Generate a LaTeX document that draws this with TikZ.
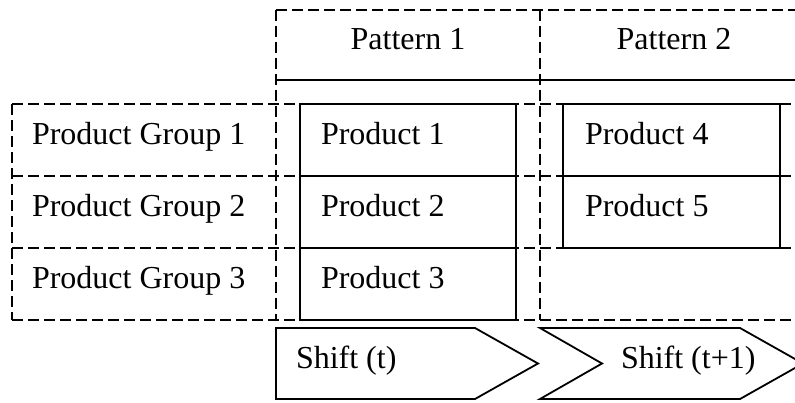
\documentclass[tikz,border=0pt]{standalone}
\usepackage{fontspec}
\setmainfont{Liberation Serif}
\begin{document}
\begin{tikzpicture}[x=1pt,y=-1pt,line width=1.8pt,
  dashline/.style={dash pattern=on 11pt off 5pt},
  cell/.style={rectangle,inner sep=0pt,outer sep=0pt,anchor=north west},
  scell/.style={cell,draw,solid},
  txt/.style={font=\fontsize{32}{38}\selectfont,text height=16pt,text depth=7pt,inner sep=0pt,outer sep=0pt},
  ltxt/.style={txt,anchor=west}]
\useasboundingbox (0,0) rectangle (795,403);
\clip (0,0) rectangle (795,403);
% grid cells (positions only)
\node[cell,minimum width=798,minimum height=72] (g1) at (12,104) {};
\node[cell,minimum width=798,minimum height=72] (g2) at (12,176) {};
\node[cell,minimum width=798,minimum height=72] (g3) at (12,248) {};
\node[cell,minimum width=264,minimum height=310] (col1) at (276,10) {};
\node[cell,minimum width=270,minimum height=310] (col2) at (540,10) {};
% dashed grid lines, each drawn once
\draw[dashline] (g1.north west) -- (g1.north east);
\draw[dashline] (g2.north west) -- (g2.north east);
\draw[dashline] (g3.north west) -- (g3.north east);
\draw[dashline] (g3.south west) -- (g3.south east);
\draw[dashline] (g1.north west) -- (g3.south west);
\draw[dashline] (col1.north west) -- (col2.north east);
\draw[dashline] (col1.north west) -- (col1.south west);
\draw[dashline] (col1.north east) -- (col1.south east);
% header separator
\coordinate (hl) at (276,80);
\coordinate (hr) at (810,80);
\draw (hl) -- (hr);
% header texts
\node[txt] (h1) at (408,45) {Pattern 1};
\node[txt] (h2) at (674,45) {Pattern 2};
% group texts
\node[ltxt] (g1t) at ([xshift=20pt]g1.west) {Product Group 1};
\node[ltxt] (g2t) at ([xshift=20pt]g2.west) {Product Group 2};
\node[ltxt] (g3t) at ([xshift=20pt]g3.west) {Product Group 3};
% product boxes
\node[scell,minimum width=216,minimum height=72] (p1) at (300,104) {};
\node[scell,minimum width=216,minimum height=72] (p2) at (300,176) {};
\node[scell,minimum width=216,minimum height=72] (p3) at (300,248) {};
\node[scell,minimum width=217,minimum height=72] (p4) at (563,104) {};
\node[scell,minimum width=217,minimum height=72] (p5) at (563,176) {};
\node[ltxt] (p1t) at ([xshift=21pt]p1.west) {Product 1};
\node[ltxt] (p2t) at ([xshift=21pt]p2.west) {Product 2};
\node[ltxt] (p3t) at ([xshift=21pt]p3.west) {Product 3};
\node[ltxt] (p4t) at ([xshift=22pt]p4.west) {Product 4};
\node[ltxt] (p5t) at ([xshift=22pt]p5.west) {Product 5};
% shifts
\draw[line join=miter] (276,328) -- (475,328) -- (538,363.5) -- (475,399) -- (276,399) -- cycle;
\draw[line join=miter] (540,328) -- (740,328) -- (803,363.5) -- (740,399) -- (540,399) -- (602,363.5) -- cycle;
\node[ltxt] (s1t) at (296,363.5) {Shift (t)};
\node[ltxt] (s2t) at (621,363.5) {Shift (t+1)};
\end{tikzpicture}
\end{document}
